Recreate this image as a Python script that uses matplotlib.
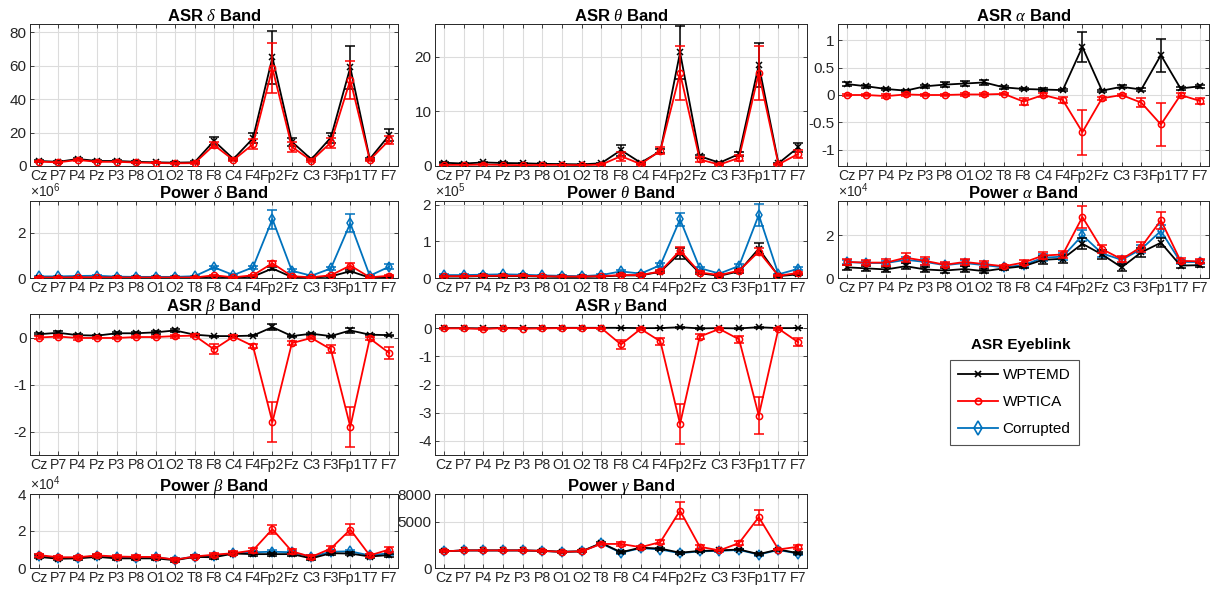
import numpy as np
import matplotlib.pyplot as plt
from matplotlib.lines import Line2D
from matplotlib.ticker import ScalarFormatter, FormatStrFormatter

plt.rcParams['font.family'] = ['Liberation Sans', 'DejaVu Sans']
plt.rcParams['mathtext.fontset'] = 'custom'
plt.rcParams['mathtext.rm'] = 'Liberation Sans'
plt.rcParams['mathtext.it'] = 'Liberation Serif:italic'
plt.rcParams['axes.unicode_minus'] = False

channels = ['Cz', 'P7', 'P4', 'Pz', 'P3', 'P8', 'O1', 'O2', 'T8', 'F8',
            'C4', 'F4', 'Fp2', 'Fz', 'C3', 'F3', 'Fp1', 'T7', 'F7']

# ASR per band (WPTEMD / WPTICA)
asr_delta_emd = [3.0, 2.5, 4.2, 3.0, 3.0, 2.5, 2.2, 2.0, 2.2, 15.0, 4.2, 16.5, 65.0, 14.5, 4.0, 17.0, 59.0, 4.2, 18.5]
asr_delta_emd_err = [0.6, 0.5, 0.8, 0.5, 0.5, 0.5, 0.4, 0.4, 0.5, 2.5, 0.7, 3.0, 16.0, 2.5, 0.7, 3.0, 13.0, 0.7, 3.5]
asr_delta_ica = [2.6, 2.2, 3.6, 2.5, 2.5, 2.1, 1.8, 1.6, 1.7, 12.5, 3.6, 13.0, 58.5, 11.5, 3.2, 14.0, 51.5, 3.6, 15.5]
asr_delta_ica_err = [0.5, 0.4, 0.7, 0.4, 0.4, 0.4, 0.3, 0.3, 0.4, 2.0, 0.6, 3.0, 15.0, 3.0, 0.6, 3.0, 11.5, 0.6, 2.5]

asr_theta_emd = [0.6, 0.45, 0.65, 0.55, 0.5, 0.4, 0.35, 0.3, 0.5, 2.9, 0.6, 2.7, 20.8, 1.8, 0.6, 2.2, 18.5, 0.5, 3.4]
asr_theta_emd_err = [0.1, 0.1, 0.1, 0.1, 0.1, 0.1, 0.1, 0.1, 0.1, 1.0, 0.15, 0.4, 4.8, 0.3, 0.15, 0.4, 4.0, 0.1, 0.8]
asr_theta_ica = [0.2, 0.2, 0.25, 0.2, 0.15, 0.2, 0.2, 0.15, 0.25, 1.8, 0.35, 2.8, 17.0, 1.2, 0.25, 1.5, 17.0, 0.3, 2.2]
asr_theta_ica_err = [0.05, 0.05, 0.05, 0.05, 0.05, 0.05, 0.05, 0.05, 0.05, 0.8, 0.1, 0.6, 5.0, 0.4, 0.1, 0.5, 5.0, 0.1, 0.8]

asr_alpha_emd = [0.2, 0.16, 0.11, 0.08, 0.16, 0.19, 0.21, 0.23, 0.14, 0.11, 0.1, 0.09, 0.88, 0.08, 0.15, 0.1, 0.73, 0.12, 0.16]
asr_alpha_emd_err = [0.03, 0.03, 0.02, 0.02, 0.03, 0.04, 0.05, 0.05, 0.03, 0.02, 0.02, 0.02, 0.27, 0.02, 0.03, 0.02, 0.3, 0.03, 0.03]
asr_alpha_ica = [0.0, 0.0, -0.02, 0.01, 0.0, 0.0, 0.01, 0.01, 0.02, -0.12, 0.0, -0.09, -0.68, -0.06, 0.0, -0.14, -0.54, 0.0, -0.11]
asr_alpha_ica_err = [0.02, 0.02, 0.03, 0.02, 0.02, 0.02, 0.02, 0.02, 0.02, 0.06, 0.03, 0.05, 0.41, 0.03, 0.02, 0.08, 0.39, 0.03, 0.05]

asr_beta_emd = [0.07, 0.1, 0.05, 0.04, 0.09, 0.09, 0.11, 0.15, 0.06, 0.03, 0.03, 0.04, 0.22, 0.03, 0.08, 0.03, 0.15, 0.06, 0.05]
asr_beta_emd_err = [0.02, 0.04, 0.02, 0.02, 0.02, 0.02, 0.03, 0.04, 0.02, 0.01, 0.01, 0.01, 0.07, 0.01, 0.02, 0.01, 0.05, 0.01, 0.01]
asr_beta_ica = [0.0, 0.02, -0.01, -0.01, -0.01, 0.01, 0.01, 0.03, 0.04, -0.25, 0.02, -0.18, -1.8, -0.12, -0.01, -0.25, -1.9, -0.02, -0.33]
asr_beta_ica_err = [0.03, 0.03, 0.04, 0.03, 0.03, 0.03, 0.03, 0.03, 0.03, 0.11, 0.03, 0.05, 0.42, 0.04, 0.03, 0.08, 0.42, 0.03, 0.12]

asr_gamma_emd = [0.0, 0.0, -0.01, 0.01, 0.0, 0.0, 0.01, 0.01, 0.01, 0.01, 0.0, 0.0, 0.03, -0.01, 0.0, -0.01, 0.03, 0.0, 0.0]
asr_gamma_emd_err = [0.01] * 19
asr_gamma_ica = [-0.01, -0.01, -0.03, 0.0, -0.02, -0.01, 0.0, 0.0, 0.0, -0.58, -0.03, -0.47, -3.4, -0.3, -0.03, -0.4, -3.1, -0.02, -0.5]
asr_gamma_ica_err = [0.03, 0.03, 0.03, 0.02, 0.02, 0.02, 0.02, 0.02, 0.02, 0.17, 0.04, 0.12, 0.72, 0.1, 0.04, 0.12, 0.65, 0.04, 0.14]

# band power (WPTEMD / WPTICA / Corrupted)
pow_delta_emd = np.array([0.01, 0.01, 0.015, 0.015, 0.01, 0.01, 0.01, 0.01, 0.01, 0.06, 0.015, 0.06, 0.42, 0.04, 0.015, 0.07, 0.3, 0.015, 0.05]) * 1e6
pow_delta_emd_err = np.array([0.01, 0.01, 0.01, 0.01, 0.01, 0.01, 0.01, 0.01, 0.01, 0.02, 0.01, 0.02, 0.06, 0.01, 0.01, 0.02, 0.05, 0.01, 0.02]) * 1e6
pow_delta_ica = np.array([0.02, 0.02, 0.03, 0.03, 0.02, 0.02, 0.02, 0.02, 0.02, 0.12, 0.03, 0.12, 0.65, 0.08, 0.03, 0.12, 0.55, 0.03, 0.1]) * 1e6
pow_delta_ica_err = np.array([0.01, 0.01, 0.01, 0.01, 0.01, 0.01, 0.01, 0.01, 0.01, 0.03, 0.01, 0.03, 0.1, 0.02, 0.01, 0.03, 0.1, 0.01, 0.03]) * 1e6
pow_delta_cor = np.array([0.07, 0.07, 0.09, 0.1, 0.06, 0.05, 0.05, 0.05, 0.08, 0.47, 0.13, 0.47, 2.6, 0.32, 0.1, 0.42, 2.42, 0.1, 0.5]) * 1e6
pow_delta_cor_err = np.array([0.02, 0.02, 0.02, 0.02, 0.02, 0.02, 0.02, 0.02, 0.02, 0.08, 0.03, 0.08, 0.42, 0.06, 0.03, 0.08, 0.4, 0.03, 0.1]) * 1e6

pow_theta_emd = np.array([0.04, 0.04, 0.05, 0.05, 0.05, 0.04, 0.03, 0.03, 0.04, 0.07, 0.07, 0.17, 0.68, 0.13, 0.06, 0.18, 0.8, 0.05, 0.1]) * 1e5
pow_theta_emd_err = np.array([0.01, 0.01, 0.01, 0.01, 0.01, 0.01, 0.01, 0.01, 0.01, 0.02, 0.02, 0.03, 0.15, 0.03, 0.02, 0.03, 0.15, 0.01, 0.02]) * 1e5
pow_theta_ica = np.array([0.05, 0.05, 0.06, 0.06, 0.06, 0.05, 0.04, 0.04, 0.05, 0.08, 0.08, 0.18, 0.75, 0.15, 0.08, 0.2, 0.72, 0.06, 0.14]) * 1e5
pow_theta_ica_err = np.array([0.01, 0.01, 0.01, 0.01, 0.01, 0.01, 0.01, 0.01, 0.01, 0.02, 0.02, 0.03, 0.1, 0.03, 0.02, 0.03, 0.1, 0.01, 0.03]) * 1e5
pow_theta_cor = np.array([0.08, 0.08, 0.09, 0.1, 0.09, 0.07, 0.06, 0.05, 0.08, 0.18, 0.12, 0.35, 1.6, 0.27, 0.12, 0.33, 1.72, 0.1, 0.25]) * 1e5
pow_theta_cor_err = np.array([0.02, 0.02, 0.02, 0.02, 0.02, 0.02, 0.02, 0.02, 0.02, 0.03, 0.02, 0.05, 0.17, 0.04, 0.02, 0.05, 0.3, 0.02, 0.04]) * 1e5

pow_alpha_emd = np.array([0.5, 0.45, 0.4, 0.55, 0.4, 0.35, 0.42, 0.32, 0.45, 0.55, 0.85, 0.9, 1.6, 1.1, 0.5, 1.2, 1.65, 0.58, 0.6]) * 1e4
pow_alpha_emd_err = np.array([0.12, 0.12, 0.12, 0.15, 0.12, 0.1, 0.12, 0.1, 0.08, 0.1, 0.2, 0.18, 0.25, 0.2, 0.15, 0.2, 0.2, 0.1, 0.1]) * 1e4
pow_alpha_ica = np.array([0.75, 0.72, 0.72, 0.95, 0.8, 0.62, 0.75, 0.65, 0.55, 0.72, 1.05, 1.1, 2.85, 1.35, 0.88, 1.45, 2.7, 0.8, 0.78]) * 1e4
pow_alpha_ica_err = np.array([0.12, 0.12, 0.15, 0.2, 0.18, 0.12, 0.15, 0.15, 0.08, 0.12, 0.15, 0.15, 0.5, 0.18, 0.15, 0.25, 0.4, 0.12, 0.1]) * 1e4
pow_alpha_cor = np.array([0.75, 0.7, 0.7, 0.85, 0.75, 0.6, 0.7, 0.6, 0.5, 0.6, 0.95, 1.0, 2.0, 1.15, 0.85, 1.35, 2.2, 0.75, 0.75]) * 1e4
pow_alpha_cor_err = np.array([0.1, 0.1, 0.1, 0.15, 0.12, 0.1, 0.12, 0.1, 0.08, 0.1, 0.15, 0.15, 0.25, 0.15, 0.15, 0.2, 0.3, 0.1, 0.1]) * 1e4

pow_beta_emd = np.array([0.6, 0.5, 0.52, 0.6, 0.52, 0.52, 0.52, 0.42, 0.6, 0.58, 0.78, 0.75, 0.75, 0.75, 0.52, 0.8, 0.78, 0.62, 0.7]) * 1e4
pow_beta_emd_err = np.array([0.08] * 19) * 1e4
pow_beta_ica = np.array([0.7, 0.58, 0.58, 0.68, 0.62, 0.6, 0.6, 0.45, 0.62, 0.72, 0.8, 0.95, 2.1, 0.9, 0.6, 1.05, 2.08, 0.68, 1.0]) * 1e4
pow_beta_ica_err = np.array([0.08, 0.08, 0.08, 0.08, 0.08, 0.08, 0.08, 0.08, 0.08, 0.1, 0.1, 0.12, 0.25, 0.15, 0.1, 0.15, 0.28, 0.1, 0.15]) * 1e4
pow_beta_cor = np.array([0.65, 0.55, 0.55, 0.65, 0.58, 0.55, 0.58, 0.45, 0.62, 0.65, 0.8, 0.85, 0.88, 0.85, 0.6, 0.88, 0.9, 0.68, 0.8]) * 1e4
pow_beta_cor_err = np.array([0.08] * 19) * 1e4

pow_gamma_emd = [1800, 1900, 1900, 1900, 1900, 1850, 1750, 1800, 2700, 1700, 2200, 2100, 1650, 1850, 1900, 2000, 1500, 2000, 1600]
pow_gamma_emd_err = [100] * 19
pow_gamma_ica = [1800, 1900, 1900, 1900, 1900, 1850, 1750, 1800, 2600, 2600, 2250, 2800, 6200, 2300, 1900, 2700, 5500, 2000, 2300]
pow_gamma_ica_err = [100, 100, 100, 100, 100, 100, 100, 100, 150, 200, 150, 250, 900, 200, 100, 200, 800, 100, 200]
pow_gamma_cor = [1800, 1900, 1900, 1900, 1900, 1850, 1750, 1800, 2650, 1650, 2150, 2000, 1600, 1800, 1850, 1950, 1450, 1950, 1550]
pow_gamma_cor_err = [100] * 19

STYLE = {
    'WPTEMD': dict(color='k', marker='x', ms=4, zorder=3),
    'WPTICA': dict(color='#ff0000', marker='o', ms=4.5, zorder=4),
    'Corrupted': dict(color='#0072BD', marker='d', ms=5.5, zorder=2),
}

W, H = 1216, 594
fig = plt.figure(figsize=(W / 100, H / 100), dpi=100)

cols = [(30, 398), (435, 807), (838, 1209)]
rows = [(24, 166), (201, 278), (314, 455), (494, 568)]
x = np.arange(1, len(channels) + 1)


def panel(col, row, title, series, ylim, yticks, sci=False):
    l, r = cols[col]
    t, b = rows[row]
    ax = fig.add_axes([l / W, 1 - b / H, (r - l) / W, (b - t) / H])
    for name, y, e in series:
        st = STYLE[name]
        ax.errorbar(x, y, yerr=e, color=st['color'], marker=st['marker'],
                    ms=st['ms'], mfc='none', mew=1.1, lw=1.3, elinewidth=1.1,
                    capsize=3.5, capthick=1.1, zorder=st['zorder'])
    ax.set_xlim(0.55, len(channels) + 0.45)
    ax.set_ylim(*ylim)
    ax.set_xticks(x)
    ax.set_xticklabels(channels)
    ax.set_yticks(yticks)
    if sci:
        fmt = ScalarFormatter(useMathText=True)
        fmt.set_powerlimits((0, 0))
        ax.yaxis.set_major_formatter(fmt)
        ax.yaxis.get_offset_text().set_fontsize(10)
        ax.yaxis.get_offset_text().set_color('#262626')
    else:
        ax.yaxis.set_major_formatter(FormatStrFormatter('%g'))
    ax.grid(True, color='#dcdcdc', lw=0.8)
    ax.set_axisbelow(True)
    ax.tick_params(direction='in', length=3, width=0.6, colors='#262626',
                   top=True, right=True)
    ax.tick_params(axis='x', labelsize=10.2, pad=2.5)
    ax.tick_params(axis='y', labelsize=11, pad=2.5)
    for s in ax.spines.values():
        s.set_color('#262626')
        s.set_linewidth(0.7)
    ax.set_title(title, fontsize=12, fontweight='bold', pad=2.5)
    return ax


panel(0, 0, r'ASR $\delta$ Band',
      [('WPTEMD', asr_delta_emd, asr_delta_emd_err), ('WPTICA', asr_delta_ica, asr_delta_ica_err)],
      (0, 85), [0, 20, 40, 60, 80])
panel(1, 0, r'ASR $\theta$ Band',
      [('WPTEMD', asr_theta_emd, asr_theta_emd_err), ('WPTICA', asr_theta_ica, asr_theta_ica_err)],
      (0, 26), [0, 10, 20])
panel(2, 0, r'ASR $\alpha$ Band',
      [('WPTEMD', asr_alpha_emd, asr_alpha_emd_err), ('WPTICA', asr_alpha_ica, asr_alpha_ica_err)],
      (-1.3, 1.3), [-1, -0.5, 0, 0.5, 1])

panel(0, 1, r'Power $\delta$ Band',
      [('Corrupted', pow_delta_cor, pow_delta_cor_err), ('WPTEMD', pow_delta_emd, pow_delta_emd_err),
       ('WPTICA', pow_delta_ica, pow_delta_ica_err)],
      (0, 3.4e6), [0, 2e6], sci=True)
panel(1, 1, r'Power $\theta$ Band',
      [('Corrupted', pow_theta_cor, pow_theta_cor_err), ('WPTEMD', pow_theta_emd, pow_theta_emd_err),
       ('WPTICA', pow_theta_ica, pow_theta_ica_err)],
      (0, 2.1e5), [0, 1e5, 2e5], sci=True)
panel(2, 1, r'Power $\alpha$ Band',
      [('Corrupted', pow_alpha_cor, pow_alpha_cor_err), ('WPTEMD', pow_alpha_emd, pow_alpha_emd_err),
       ('WPTICA', pow_alpha_ica, pow_alpha_ica_err)],
      (0, 3.6e4), [0, 2e4], sci=True)

panel(0, 2, r'ASR $\beta$ Band',
      [('WPTEMD', asr_beta_emd, asr_beta_emd_err), ('WPTICA', asr_beta_ica, asr_beta_ica_err)],
      (-2.5, 0.5), [-2, -1, 0])
panel(1, 2, r'ASR $\gamma$ Band',
      [('WPTEMD', asr_gamma_emd, asr_gamma_emd_err), ('WPTICA', asr_gamma_ica, asr_gamma_ica_err)],
      (-4.5, 0.5), [-4, -3, -2, -1, 0])

panel(0, 3, r'Power $\beta$ Band',
      [('Corrupted', pow_beta_cor, pow_beta_cor_err), ('WPTEMD', pow_beta_emd, pow_beta_emd_err),
       ('WPTICA', pow_beta_ica, pow_beta_ica_err)],
      (0, 4e4), [0, 2e4, 4e4], sci=True)
panel(1, 3, r'Power $\gamma$ Band',
      [('Corrupted', pow_gamma_cor, pow_gamma_cor_err), ('WPTEMD', pow_gamma_emd, pow_gamma_emd_err),
       ('WPTICA', pow_gamma_ica, pow_gamma_ica_err)],
      (0, 8000), [0, 5000, 8000])

# legend with its title sitting above the box
handles = []
for name in ['WPTEMD', 'WPTICA', 'Corrupted']:
    st = STYLE[name]
    ms = 7 if name == 'Corrupted' else st['ms']
    handles.append(Line2D([], [], color=st['color'], marker=st['marker'], ms=ms,
                          mfc='none', mew=1.2, lw=1.3, label=name))
leg = fig.legend(handles=handles, loc='upper left', bbox_to_anchor=(950 / W, 1 - 360 / H),
                 borderaxespad=0, fontsize=11, frameon=True, fancybox=False,
                 edgecolor='#262626', handlelength=2.6, handletextpad=0.3,
                 labelspacing=0.85, borderpad=0.55)
leg.get_frame().set_linewidth(0.8)
fig.text(1021 / W, 1 - 345 / H, 'ASR Eyeblink', fontsize=11, fontweight='bold',
         ha='center', va='center')

fig.savefig('out.png', dpi=100)
